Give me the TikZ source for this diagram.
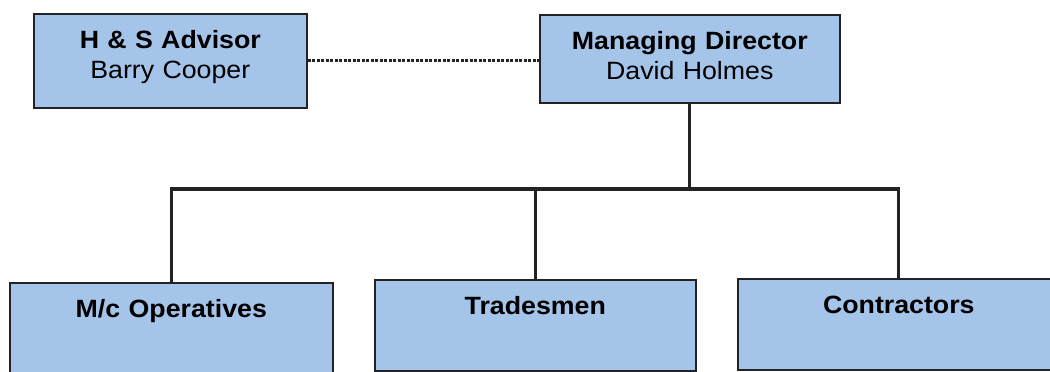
\documentclass[tikz,border=0pt]{standalone}
\usepackage{fontspec}
\setmainfont{Liberation Sans}[FakeStretch=1.07]
\definecolor{boxblue}{RGB}{165,196,234}
\definecolor{lineink}{RGB}{35,35,35}

\begin{document}
\begin{tikzpicture}[x=1pt,y=-1pt,
  block/.style={rectangle,draw=lineink,line width=1.6pt,fill=boxblue,anchor=north west,align=center,inner xsep=0pt,inner ysep=17pt,text height=18pt,font=\fontsize{25}{29.5}\selectfont},
  link/.style={draw=lineink,line width=3.2pt}]
\def\topRow{13}
\def\lowRow{279}
\def\barRow{189}
\useasboundingbox (0,0) rectangle (1050,372);
%\draw[help lines,step=50] (0,0) grid (1050,372);
\path
(33,\topRow) node [block,text width=273pt,text depth=42pt] (hs) {\textbf{H \& S Advisor}\\Barry Cooper}
(539,\topRow+1) node [block,text width=300pt,text depth=36pt] (md) {\textbf{Managing Director}\\David Holmes}
(9,\lowRow+3) node [block,text width=323pt,text depth=41pt] (mco) {\textbf{M/c Operatives}}
(374,\lowRow) node [block,text width=321pt,text depth=39pt] (trades) {\textbf{Tradesmen}}
(737,\lowRow-1) node [block,text width=322pt,text depth=39pt] (contr) {\textbf{Contractors}}
;
\coordinate (bar) at (0,\barRow);

\begin{scope}[every path/.style=link]
\path (md.south) -- (md.south |- bar);
\path (mco.north) |- (contr.north |- bar) -- (contr.north);
\path (trades.north |- bar) -- (trades.north);
\end{scope}

% advisor line
\draw[draw=lineink,line width=3pt,dash pattern=on 3pt off 1.5pt] (hs.east) -- (hs.east -| md.west);

\end{tikzpicture}
\end{document}
